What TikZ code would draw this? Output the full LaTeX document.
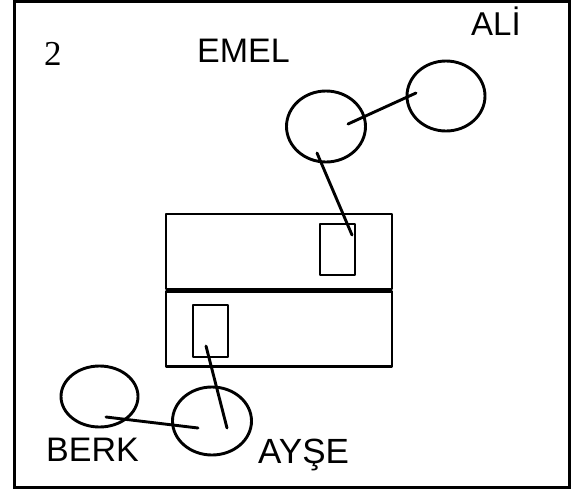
\documentclass[tikz,border=0pt]{standalone}
\usepackage{fontspec}
\setmainfont{Liberation Sans}
\newfontfamily\serifnum{Liberation Serif}
\usetikzlibrary{shapes.geometric}
\begin{document}
\begin{tikzpicture}[x=1pt,y=-1pt,
  ln/.style={line width=2.9pt, line cap=round, line join=round},
  person/.style={ln, draw, ellipse, inner sep=0pt},
  box/.style={ln, draw, rectangle, inner sep=0pt},
  lbl/.style={anchor=base west, inner sep=0pt, font=\fontsize{34}{34}\selectfont}]
\useasboundingbox (0,0) rectangle (576,491);
% frame
\node[draw, line width=3pt, rectangle, minimum width=555pt, minimum height=486pt, inner sep=0pt] (frame) at (292,244.5) {};
% tables
\node[box, minimum width=226pt, minimum height=75pt] (tabA) at (279,251.5) {};
\node[box, minimum width=226pt, minimum height=75pt] (tabB) at (279,329) {};
\node[box, minimum width=35pt, minimum height=51pt] (seatA) at (337.5,249.5) {};
\node[box, minimum width=35pt, minimum height=52pt] (seatB) at (210.5,331) {};
% persons
\node[person, minimum width=79pt, minimum height=71pt] (emelP) at (326,126.5) {};
\node[person, minimum width=78pt, minimum height=70pt] (aliP) at (446,96) {};
\node[person, minimum width=79pt, minimum height=68pt] (ayseP) at (212,421) {};
\node[person, minimum width=77pt, minimum height=61pt] (berkP) at (99.5,396.5) {};
% labels
\node[anchor=base west, inner sep=0pt, font=\serifnum\fontsize{35}{35}\selectfont] (num) at (44,65) {2};
\node[lbl] (emelT) at (197,62) {EMEL};
\node[lbl, font=\fontsize{33}{33}\selectfont] (aliT) at (471,35) {ALİ};
\node[lbl] (berkT) at (46,461) {BERK};
\node[lbl, font=\fontsize{35}{35}\selectfont] (ayseT) at (258,463) {AYŞE};
% connector ends
\coordinate (e1) at (348,124);
\coordinate (a1) at (416,93);
\coordinate (e2) at (317,153);
\coordinate (s1) at (352,235);
\coordinate (s2) at (206,346);
\coordinate (y1) at (227,428);
\coordinate (b1) at (106,417);
\coordinate (y2) at (198,428);
\draw[ln] (e1) -- (a1);
\draw[ln] (e2) -- (s1);
\draw[ln] (s2) -- (y1);
\draw[ln] (b1) -- (y2);
\end{tikzpicture}
\end{document}
